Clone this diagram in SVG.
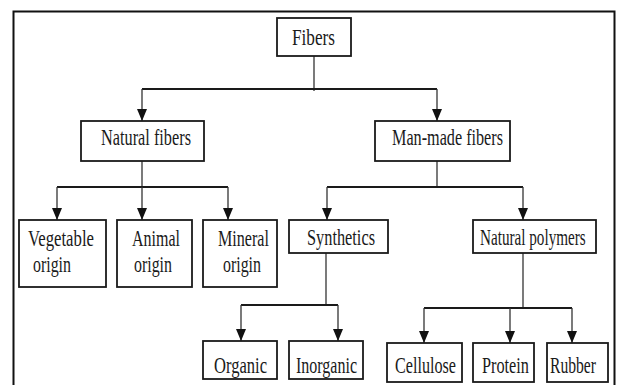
<svg xmlns="http://www.w3.org/2000/svg" width="617" height="385" viewBox="0 0 617 385">
<style>
.box{fill:#fff;stroke:#1a1a1a;stroke-width:1.8}
.t{font-family:"Liberation Serif","DejaVu Serif","Times New Roman",serif;font-size:23px;fill:#1a1a1a}
.h{fill:none;stroke:#1a1a1a;stroke-width:2}
.v{fill:none;stroke:#333;stroke-width:1.3}
.a{fill:none;stroke:#333;stroke-width:1.3;marker-end:url(#ah)}
</style>
<defs>
<marker id="ah" markerUnits="userSpaceOnUse" markerWidth="12" markerHeight="10" viewBox="0 0 12 10" refX="12" refY="5" orient="auto">
<path d="M0,0 L12,5 L0,10 Z" fill="#111"/>
</marker>
</defs>
<rect x="0" y="0" width="617" height="385" fill="#fff"/>
<path d="M13.5,392 V11.5 H614.5 V392" fill="none" stroke="#111" stroke-width="2"/>
<g id="connectors">
<path class="v" d="M314,56 V91"/>
<path class="h" d="M142,89 H437"/>
<path class="a" d="M142,89 V121"/>
<path class="a" d="M437,89 V121"/>
<path class="v" d="M142,161 V187"/>
<path class="h" d="M57,187 H228"/>
<path class="a" d="M57,187 V220"/>
<path class="a" d="M142,187 V220"/>
<path class="a" d="M228,187 V220"/>
<path class="v" d="M437,161 V187"/>
<path class="h" d="M327,187 H523"/>
<path class="a" d="M327,187 V220"/>
<path class="a" d="M523,187 V220"/>
<path class="v" d="M326,253 V305"/>
<path class="h" d="M241,305 H338"/>
<path class="a" d="M241,305 V341"/>
<path class="a" d="M338,305 V341"/>
<path class="v" d="M523,253 V308"/>
<path class="h" d="M424,308 H572"/>
<path class="a" d="M424,308 V343"/>
<path class="a" d="M510,308 V343"/>
<path class="a" d="M572,308 V343"/>
</g>
<g id="fibers"><rect class="box" x="277" y="18" width="74" height="38"/><text class="t" x="292" y="45" textLength="43" lengthAdjust="spacingAndGlyphs">Fibers</text></g>
<g id="natural-fibers"><rect class="box" x="81" y="121" width="123" height="40"/><text class="t" x="101" y="145" textLength="90" lengthAdjust="spacingAndGlyphs">Natural fibers</text></g>
<g id="man-made-fibers"><rect class="box" x="375" y="121" width="135" height="40"/><text class="t" x="392" y="145" textLength="111" lengthAdjust="spacingAndGlyphs">Man-made fibers</text></g>
<g id="vegetable-origin"><rect class="box" x="19" y="220" width="87" height="67"/><text class="t" x="28" y="246" textLength="66" lengthAdjust="spacingAndGlyphs">Vegetable</text><text class="t" x="33" y="272" textLength="38" lengthAdjust="spacingAndGlyphs">origin</text></g>
<g id="animal-origin"><rect class="box" x="117" y="220" width="75" height="67"/><text class="t" x="132" y="246" textLength="48" lengthAdjust="spacingAndGlyphs">Animal</text><text class="t" x="134" y="272" textLength="38" lengthAdjust="spacingAndGlyphs">origin</text></g>
<g id="mineral-origin"><rect class="box" x="203" y="220" width="74" height="67"/><text class="t" x="218" y="246" textLength="51" lengthAdjust="spacingAndGlyphs">Mineral</text><text class="t" x="223" y="272" textLength="38" lengthAdjust="spacingAndGlyphs">origin</text></g>
<g id="synthetics"><rect class="box" x="289" y="220" width="99" height="33"/><text class="t" x="307" y="245" textLength="68" lengthAdjust="spacingAndGlyphs">Synthetics</text></g>
<g id="natural-polymers"><rect class="box" x="473" y="220" width="123" height="33"/><text class="t" transform="translate(480 245) scale(0.66 1)" x="0" y="0">Natural polymers</text></g>
<g id="organic"><rect class="box" x="203" y="341" width="74" height="38"/><text class="t" x="214" y="373" textLength="53" lengthAdjust="spacingAndGlyphs">Organic</text></g>
<g id="inorganic"><rect class="box" x="289" y="341" width="74" height="38"/><text class="t" x="296" y="373" textLength="61" lengthAdjust="spacingAndGlyphs">Inorganic</text></g>
<g id="cellulose"><rect class="box" x="387" y="343" width="75" height="39"/><text class="t" x="395" y="373" textLength="61" lengthAdjust="spacingAndGlyphs">Cellulose</text></g>
<g id="protein"><rect class="box" x="473" y="343" width="61" height="39"/><text class="t" x="482" y="373" textLength="47" lengthAdjust="spacingAndGlyphs">Protein</text></g>
<g id="rubber"><rect class="box" x="547" y="343" width="61" height="39"/><text class="t" x="550" y="373" textLength="46" lengthAdjust="spacingAndGlyphs">Rubber</text></g>
</svg>
